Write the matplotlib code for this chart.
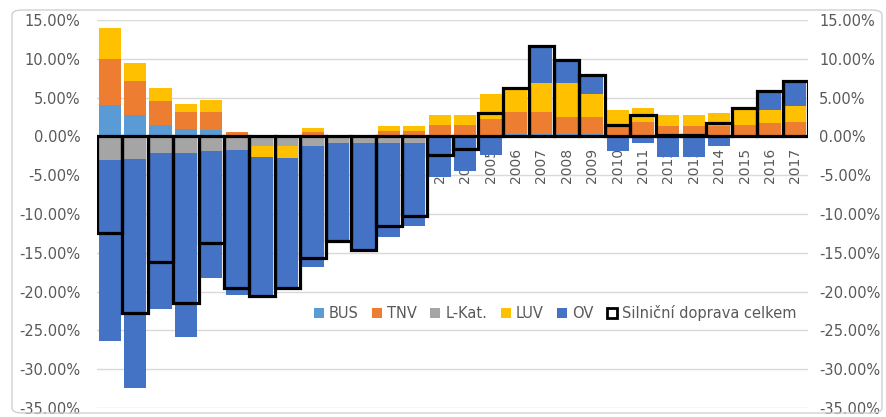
import numpy as np
import matplotlib
matplotlib.use("Agg")
import matplotlib.pyplot as plt
from matplotlib.patches import FancyBboxPatch, Patch
from matplotlib.ticker import FuncFormatter

# Roky a příspěvky jednotlivých kategorií vozidel (v %)
years = list(range(1990, 2018))

bus = [4.1, 2.7, 1.5, 0.9, 0.8, 0, 0, 0, 0, 0, 0, 0, 0, 0,
       0, 0, 0.3, 0.3, 0.3, 0.3, 0, 0, 0, 0, 0, 0, 0, 0]
tnv = [5.9, 4.4, 3.0, 2.3, 2.4, 0.6, 0, 0, 0.6, 0.2, 0.2, 0.7, 0.7, 1.5,
       1.5, 2.3, 2.9, 2.9, 2.2, 2.2, 1.5, 1.9, 1.4, 1.4, 1.3, 1.5, 1.7, 1.9]
lkat = [-3.0, -2.9, -2.1, -2.1, -1.9, -1.7, -1.3, -1.3, -1.2, -0.8, -0.8, -0.8, -0.8, 0,
        0, 0, 0, 0, 0, 0, 0, 0, 0, 0, 0, 0, 0, 0]
luv = [4.0, 2.4, 1.7, 1.0, 1.5, 0, -1.3, -1.5, 0.5, 0, 0, 0.6, 0.6, 1.3,
       1.3, 3.1, 3.0, 3.7, 4.4, 2.9, 1.9, 1.7, 1.4, 1.4, 1.7, 2.1, 1.7, 2.0]
ov = [-23.4, -29.5, -20.2, -23.7, -16.4, -18.7, -18.0, -16.8, -15.6, -12.9, -14.0, -12.1, -10.8, -5.2,
      -4.4, -2.4, 0, 4.7, 3.0, 2.5, -1.9, -0.9, -2.6, -2.6, -1.3, 0, 2.4, 3.2]
total = [-12.4, -22.7, -16.2, -21.5, -13.7, -19.5, -20.6, -19.6, -15.7, -13.5, -14.6, -11.6, -10.3, -2.4,
         -1.6, 3.0, 6.2, 11.6, 9.9, 7.9, 1.5, 2.7, 0.2, 0.2, 1.7, 3.6, 5.8, 7.1]

series = [("BUS", bus, "#5B9BD5"),
          ("TNV", tnv, "#ED7D31"),
          ("L-Kat.", lkat, "#A5A5A5"),
          ("LUV", luv, "#FFC000"),
          ("OV", ov, "#4472C4")]

txt = "#595959"
plt.rcParams['font.family'] = ['DejaVu Sans']

fig = plt.figure(figsize=(8.86, 4.17), dpi=100)
ax = fig.add_axes([97 / 886, 9 / 417, 711 / 886, 388 / 417])

# rámeček grafu se zaoblenými rohy
frame = FancyBboxPatch((12 / 886, 4 / 417), 870 / 886, 403 / 417,
                       boxstyle="round,pad=0,rounding_size=0.012",
                       transform=fig.transFigure, fill=False,
                       edgecolor="#D0D0D0", linewidth=1.0, zorder=0)
fig.patches.append(frame)

x = np.arange(len(years))

# popisky let pod nulovou osou (pod sloupci)
for xi, yr in zip(x, years):
    ax.text(xi, -1.45, str(yr), rotation=90, ha="center", va="top",
            fontsize=10, color=txt, zorder=1)

# skládané sloupce, kladné a záporné zvlášť
pos_base = np.zeros(len(years))
neg_base = np.zeros(len(years))
for name, vals, col in series:
    v = np.array(vals, dtype=float)
    bottom = np.where(v >= 0, pos_base, neg_base)
    ax.bar(x, v, bottom=bottom, width=0.87, color=col, zorder=2)
    pos_base += np.where(v > 0, v, 0)
    neg_base += np.where(v < 0, v, 0)

# celková silniční doprava jako obrys
ax.bar(x, total, width=1.0, facecolor="none", edgecolor="black",
       linewidth=2.3, zorder=3)

ax.set_xlim(-0.5, len(years) - 0.5)
ax.set_ylim(-35, 15)
ticks = np.arange(-35, 16, 5)
ax.set_yticks(ticks)
fmt = FuncFormatter(lambda v, p: f"{v:.2f}%")
ax.yaxis.set_major_formatter(fmt)
ax.set_xticks([])
ax.grid(axis="y", color="#D9D9D9", linewidth=1.0, zorder=0)
ax.set_axisbelow(True)
for s in ax.spines.values():
    s.set_visible(False)
ax.tick_params(axis="y", length=0, pad=12, labelsize=10.5, labelcolor=txt)

ax2 = ax.twinx()
ax2.set_ylim(ax.get_ylim())
ax2.set_yticks(ticks)
ax2.yaxis.set_major_formatter(fmt)
for s in ax2.spines.values():
    s.set_visible(False)
ax2.tick_params(axis="y", length=0, pad=8, labelsize=10.5, labelcolor=txt)

handles = [Patch(facecolor=col, edgecolor="none") for _, _, col in series]
handles.append(Patch(facecolor="white", edgecolor="black", linewidth=2))
labels = [name for name, _, _ in series] + ["Silniční doprava celkem"]
leg = fig.legend(handles, labels, loc="center", bbox_to_anchor=(555 / 886, 1 - 313 / 417),
                 ncol=6, frameon=False, fontsize=10.5, handlelength=0.7,
                 handleheight=0.7, handletextpad=0.35, columnspacing=0.9,
                 labelcolor=txt)

fig.savefig("out.png", dpi=100)
